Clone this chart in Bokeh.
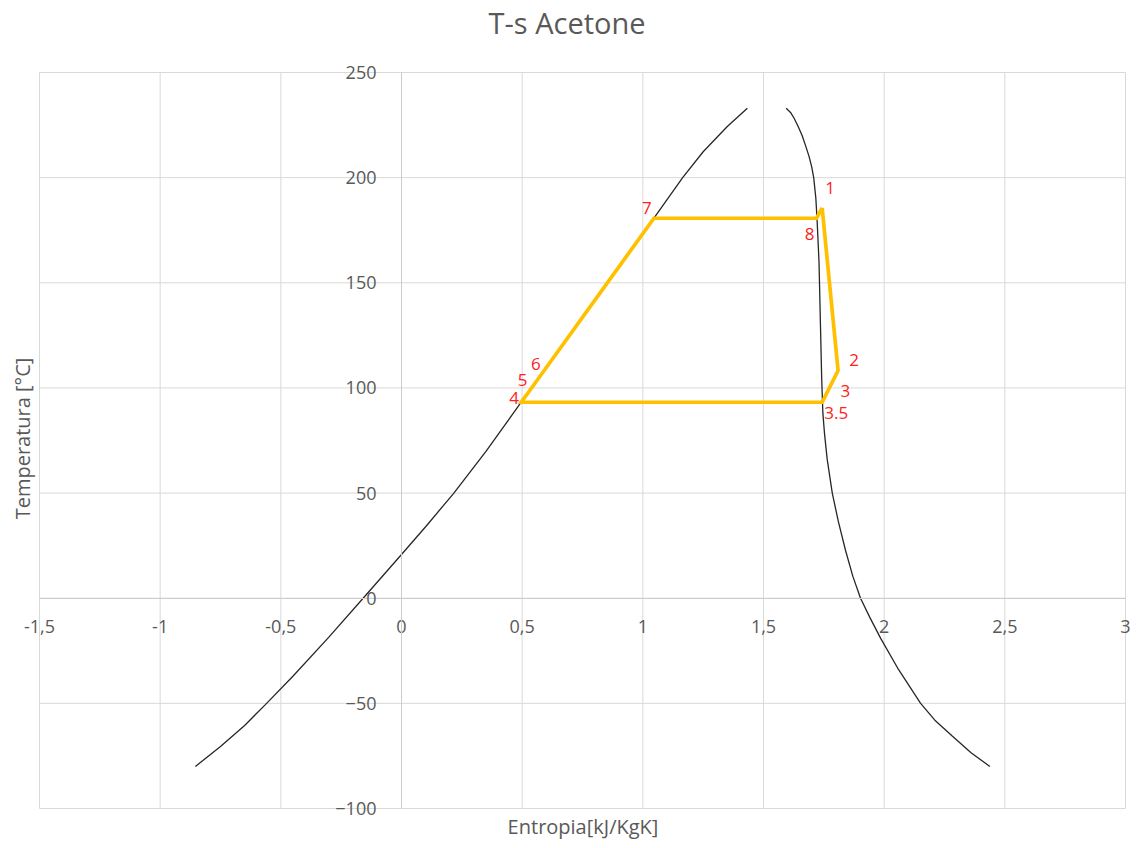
from bokeh.plotting import figure
from bokeh.models import ColumnDataSource, FixedTicker, Range1d, Label
from bokeh.embed import file_html
from bokeh.resources import INLINE
from bokeh.core.properties import value
import math

# Saturation dome
liq_s = [-0.854, -0.75, -0.65, -0.564, -0.45, -0.30, -0.159, 0.0, 0.10, 0.217, 0.35, 0.496,
         0.65, 0.85, 1.046, 1.165, 1.25, 1.35, 1.433]
liq_T = [-80.0, -70.5, -60.5, -50.6, -37.1, -18.4, 0.0, 20.8, 34.0, 50.0, 69.8, 93.2,
         117.7, 149.5, 180.7, 200.0, 212.3, 224.3, 233.0]
vap_s = [1.594, 1.612, 1.628, 1.645, 1.660, 1.675, 1.689, 1.700, 1.708, 1.717, 1.722, 1.730,
         1.736, 1.741, 1.746, 1.753, 1.764, 1.785, 1.810, 1.840, 1.870, 1.902, 1.940, 1.985,
         2.060, 2.151, 2.210, 2.282, 2.360, 2.438]
vap_T = [233.0, 231.0, 228.0, 224.0, 220.0, 215.0, 210.0, 205.0, 200.0, 190.0, 180.0, 160.0,
         130.0, 105.0, 88.0, 78.0, 66.0, 50.0, 36.5, 22.7, 10.5, 0.0, -9.0, -19.0,
         -34.0, -50.0, -58.0, -65.5, -73.5, -80.0]

# Cycle states
states = ["1", "2", "3", "3.5", "4", "5", "6", "7", "8"]
cyc_s = [1.743, 1.809, 1.773, 1.743, 0.496, 0.5015, 0.524, 1.046, 1.72]
cyc_T = [185.6, 108.3, 100.0, 93.2, 93.2, 94.1, 97.6, 180.7, 180.7]

x_ticks = [-1.5, -1.0, -0.5, 0.0, 0.5, 1.0, 1.5, 2.0, 2.5, 3.0]
x_tick_labels = ["-1,5", "-1", "-0,5", "0", "0,5", "1", "1,5", "2", "2,5", "3"]
y_ticks = [-100, -50, 0, 50, 100, 150, 200, 250]

# label placement (screen px offsets)
lab_dx = [8, 16, 16, 14, -7, 0, 8, -7, -7]
lab_dy = [-20, -10, 3, 11, -4, -20, -29, -10, 16]

FONT = "Open Sans"
GRAY = "#595959"
GRID = "#d9d9d9"

# Layout: plot area in page pixels
W, H = 1135, 844            # figure size
PL, PR, PT, PB = 39, 1125, 72, 808   # plot-area edges inside the figure
xmin, xmax = x_ticks[0], x_ticks[-1]
ymin, ymax = y_ticks[0], y_ticks[-1]
sx = (PR - PL) / (xmax - xmin)
sy = (PB - PT) / (ymax - ymin)

def dx(px):
    return xmin + (px - PL) / sx

def dy(py):
    return ymax - (py - PT) / sy

p = figure(frame_width=W, frame_height=H, output_backend="svg", toolbar_location=None,
           x_range=Range1d(dx(0), dx(W)), y_range=Range1d(dy(H), dy(0)),
           min_border=0, min_border_left=0, min_border_right=0,
           min_border_top=0, min_border_bottom=0)
p.outline_line_color = None
p.background_fill_color = "white"
p.border_fill_color = "white"
p.grid.visible = False

# grid lines limited to the plot area
p.segment(x0=x_ticks, y0=[ymin] * len(x_ticks), x1=x_ticks, y1=[ymax] * len(x_ticks),
          line_color=GRID, line_width=1)
p.segment(x0=[xmin] * len(y_ticks), y0=y_ticks, x1=[xmax] * len(y_ticks), y1=y_ticks,
          line_color=GRID, line_width=1)

p.xaxis.ticker = FixedTicker(ticks=x_ticks)
p.yaxis.ticker = FixedTicker(ticks=y_ticks)
p.xaxis.major_label_overrides = {t: l for t, l in zip(x_ticks, x_tick_labels)}
p.xaxis.fixed_location = 0
p.yaxis.fixed_location = 0
p.xaxis.bounds = (xmin, xmax)
p.yaxis.bounds = (ymin, ymax)
for ax in (p.xaxis, p.yaxis):
    ax.axis_line_color = "#cccccc"
    ax.major_tick_line_color = None
    ax.minor_tick_line_color = None
    ax.major_label_text_font = FONT
    ax.major_label_text_font_size = "18px"
    ax.major_label_text_color = GRAY
p.xaxis.major_label_standoff = 16
p.yaxis.major_label_standoff = 19

p.line(liq_s, liq_T, line_color="#262626", line_width=1.3)
p.line(vap_s, vap_T, line_color="#262626", line_width=1.3)

loop_s = cyc_s + [cyc_s[0]]
loop_T = cyc_T + [cyc_T[0]]
p.line(loop_s, loop_T, line_color="#FFC000", line_width=3.7, line_join="miter")

src = ColumnDataSource(dict(s=cyc_s, T=cyc_T, t=states, ox=lab_dx, oy=lab_dy))
p.text(x="s", y="T", text="t", x_offset="ox", y_offset="oy", source=src,
       text_font=value(FONT), text_font_size="17px", text_color="#ff2020",
       text_align="center", text_baseline="middle")

p.add_layout(Label(x=dx(566.5), y=dy(22), text="T-s Acetone", text_font=FONT,
                   text_font_size="29px", text_color=GRAY, text_align="center",
                   text_baseline="middle"))
p.add_layout(Label(x=dx(582.5), y=dy(826), text="Entropia[kJ/KgK]", text_font=FONT,
                   text_font_size="20px", text_color=GRAY, text_align="center",
                   text_baseline="middle"))
p.add_layout(Label(x=dx(22), y=dy(438), text="Temperatura [°C]", text_font=FONT,
                   text_font_size="20px", text_color=GRAY, text_align="center",
                   text_baseline="middle", angle=math.pi / 2))

open("out.html", "w").write(file_html(p, INLINE))
